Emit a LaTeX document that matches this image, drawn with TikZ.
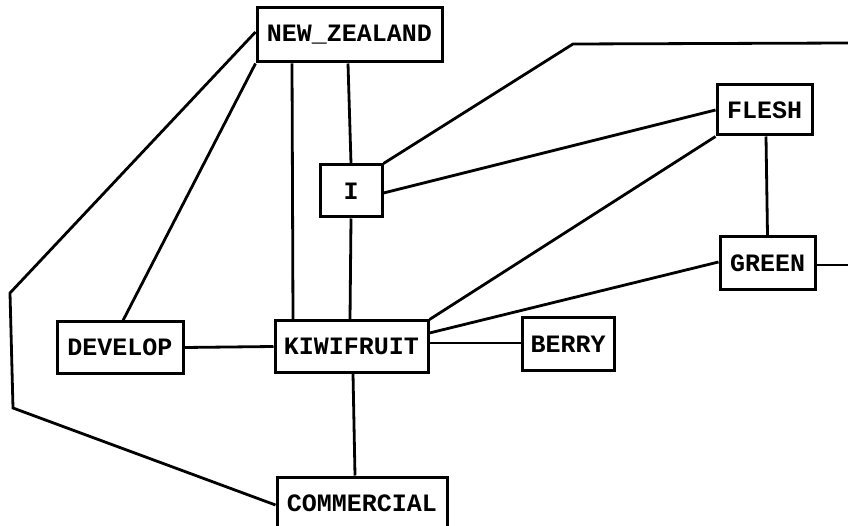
\documentclass[tikz,border=0pt]{standalone}
\usepackage{fontspec}
\setmonofont{Liberation Mono}
\begin{document}
\begin{tikzpicture}[x=1pt,y=-1pt,
  term/.style={draw,line width=3pt,inner sep=0pt,
    font=\ttfamily\bfseries\fontsize{25}{25}\selectfont},
  link/.style={line width=2.8pt,line join=miter}]
\useasboundingbox (0,0) rectangle (848,526);
\clip (0,0) rectangle (848,526);

% concept boxes
\node[term,minimum width=185pt,minimum height=54pt] (nz)    at (349.5,35)  {NEW\_ZEALAND};
\node[term,minimum width=95pt, minimum height=50pt] (flesh) at (764.5,110)  {FLESH};
\node[term,minimum width=62pt, minimum height=52pt] (i)     at (351,191)    {I};
\node[term,minimum width=95pt, minimum height=53pt] (green) at (767.5,263.5) {GREEN};
\node[term,minimum width=153pt,minimum height=51pt] (kiwi)  at (351.5,346.5) {KIWIFRUIT};
\node[term,minimum width=92pt, minimum height=52pt] (berry) at (568,344)    {BERRY};
\node[term,minimum width=126pt,minimum height=51pt] (dev)   at (120,347.5)  {DEVELOP};
\node[term,minimum width=170pt,minimum height=52pt] (comm)  at (362,503)    {COMMERCIAL};

% free ends and bends
\coordinate (topbend) at (573,44);
\coordinate (topend)  at (850,43);
\coordinate (greenend) at (850,265);
\coordinate (lbend1) at (10,293);
\coordinate (lbend2) at (13,408);

% connectors
\draw[link] ([xshift=-57.5pt]nz.south) -- ([xshift=-58.5pt]kiwi.north);
\draw[link] ([xshift=-1.5pt]nz.south) -- (i.north);
\draw[link] (i.south) -- ([xshift=-1.5pt]kiwi.north);
\draw[link] (i.north east) -- (topbend) -- (topend);
\draw[link] ([yshift=-2pt]i.east) -- (flesh.west);
\draw[link] (flesh.south west) -- (kiwi.north east);
\draw[link] ([xshift=1.5pt]flesh.south) -- (green.north);
\draw[link] ([yshift=1.5pt]green.west) -- ([yshift=13.5pt]kiwi.east);
\draw[link] ([yshift=-1.5pt]green.east) -- (greenend);
\draw[link] ([yshift=3.5pt]kiwi.east) -- ([yshift=1pt]berry.west);
\draw[link] (dev.east) -- (kiwi.west);
\draw[link] ([xshift=3pt]dev.north) -- (nz.south west);
\draw[link] ([yshift=3pt]nz.west) -- (lbend1) -- (lbend2) -- ([yshift=-2pt]comm.west);
\draw[link] ([xshift=1.5pt]kiwi.south) -- ([xshift=-7pt]comm.north);
\end{tikzpicture}
\end{document}
